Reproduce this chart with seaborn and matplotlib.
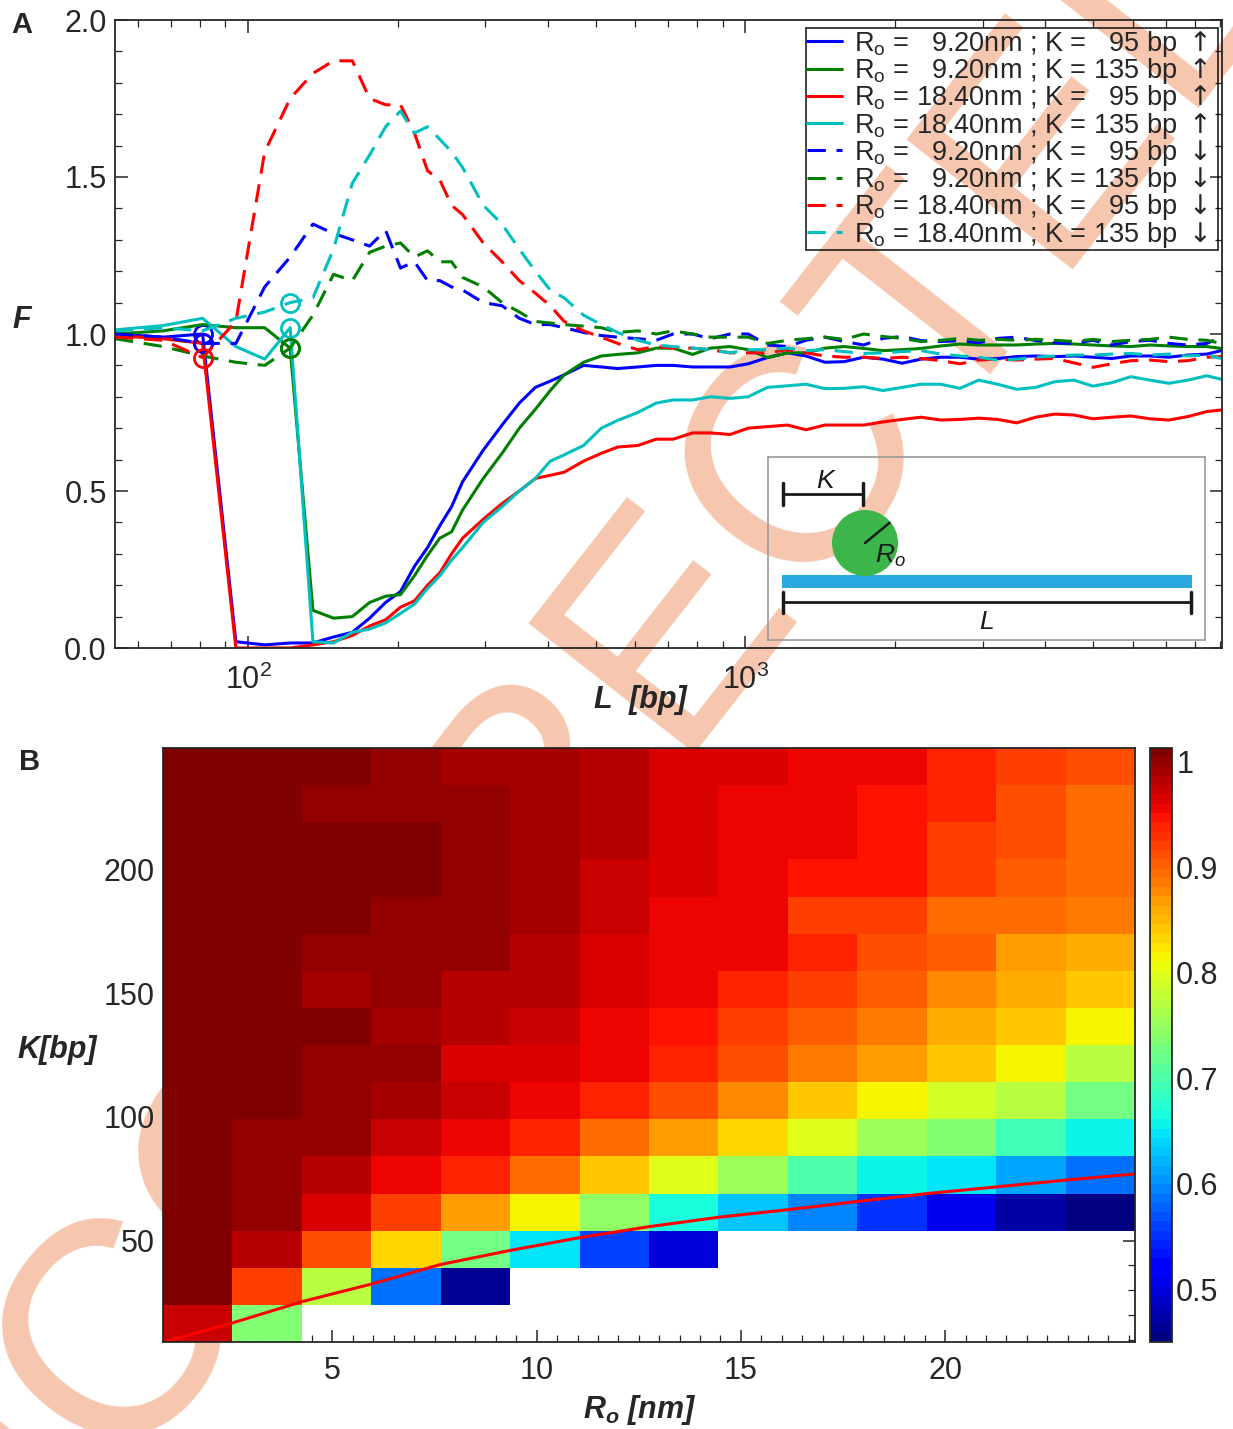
import numpy as np
import pandas as pd
import matplotlib
matplotlib.use("Agg")
import matplotlib.pyplot as plt
from matplotlib.patches import Ellipse
from matplotlib.ticker import MultipleLocator
from matplotlib.colors import ListedColormap
import seaborn as sns

# ---------------- panel A data (L = 13.5 bp * k) ----------------
k_index = [4, 5, 6, 7, 8, 9, 10, 11, 12, 13, 14, 15, 16, 17, 18, 19, 20,
           22, 24, 26, 28, 30, 32, 35, 38, 41, 45, 49, 53, 58, 63, 69, 75, 82, 90, 98, 107,
           117, 128, 140, 153, 167, 183, 200, 218, 238, 260, 284, 310, 339, 370, 404, 441,
           482, 526, 574, 627, 670]

f_blue_up = [1.0, 0.99, 1.0, 0.02, 0.01, 0.016, 0.016, 0.035, 0.05, 0.095, 0.145, 0.18, 0.26, 0.32, 0.39, 0.45, 0.53,
             0.63, 0.71, 0.78, 0.83, 0.85, 0.87, 0.90, 0.895, 0.89, 0.895, 0.90, 0.90, 0.895, 0.895, 0.895, 0.905, 0.925, 0.94, 0.93, 0.91,
             0.912, 0.926, 0.92, 0.907, 0.92, 0.926, 0.926, 0.92, 0.922, 0.928, 0.93, 0.928, 0.93, 0.926, 0.922, 0.93,
             0.93, 0.926, 0.933, 0.936, 0.947]
f_green_up = [1.0, 1.01, 1.03, 1.02, 1.02, 0.955, 0.12, 0.095, 0.10, 0.145, 0.165, 0.17, 0.23, 0.295, 0.35, 0.37, 0.44,
              0.54, 0.62, 0.70, 0.76, 0.82, 0.87, 0.91, 0.93, 0.935, 0.94, 0.955, 0.955, 0.935, 0.955, 0.96, 0.95, 0.925, 0.94, 0.94, 0.955,
              0.96, 0.954, 0.947, 0.95, 0.954, 0.962, 0.968, 0.965, 0.965, 0.965, 0.968, 0.97, 0.968, 0.965, 0.962, 0.96,
              0.965, 0.962, 0.96, 0.96, 0.954]
f_red_up = [0.995, 0.985, 0.97, 0.0, 0.0, 0.0, 0.01, 0.02, 0.04, 0.07, 0.09, 0.13, 0.15, 0.20, 0.24, 0.30, 0.35,
            0.41, 0.46, 0.50, 0.54, 0.55, 0.56, 0.595, 0.62, 0.64, 0.645, 0.665, 0.665, 0.685, 0.685, 0.68, 0.70, 0.705, 0.71, 0.695, 0.71,
            0.71, 0.71, 0.72, 0.728, 0.735, 0.726, 0.728, 0.732, 0.728, 0.717, 0.735, 0.745, 0.742, 0.73, 0.735, 0.739,
            0.73, 0.726, 0.737, 0.753, 0.758]
f_cyan_up = [1.013, 1.027, 1.05, 0.96, 0.92, 1.02, 0.02, 0.016, 0.05, 0.06, 0.08, 0.11, 0.14, 0.19, 0.23, 0.28, 0.32,
             0.40, 0.45, 0.50, 0.54, 0.595, 0.615, 0.645, 0.70, 0.725, 0.75, 0.78, 0.79, 0.79, 0.80, 0.795, 0.80, 0.83, 0.835, 0.84, 0.826,
             0.827, 0.832, 0.82, 0.83, 0.84, 0.84, 0.827, 0.853, 0.84, 0.824, 0.83, 0.848, 0.853, 0.834, 0.845, 0.864,
             0.853, 0.843, 0.853, 0.867, 0.856]
f_blue_dn = [1.0, 0.99, 0.97, 0.97, 1.15, 1.245, 1.35, 1.32, 1.30, 1.28, 1.33, 1.21, 1.23, 1.17, 1.17, 1.15, 1.14,
             1.10, 1.09, 1.05, 1.03, 1.03, 1.02, 1.005, 0.995, 0.99, 0.985, 0.98, 1.0, 1.0, 0.985, 1.0, 1.0, 0.965, 0.96, 0.98, 0.99,
             0.976, 0.965, 0.986, 0.992, 0.979, 0.976, 0.979, 0.972, 0.986, 0.99, 0.979, 0.972, 0.97, 0.98, 0.965, 0.976,
             0.98, 0.97, 0.965, 0.97, 0.99]
f_green_dn = [0.985, 0.96, 0.93, 0.91, 0.90, 0.955, 1.06, 1.19, 1.17, 1.26, 1.28, 1.29, 1.245, 1.265, 1.23, 1.23, 1.18,
              1.15, 1.10, 1.07, 1.04, 1.035, 1.03, 1.025, 1.02, 1.005, 1.01, 1.0, 1.01, 1.0, 0.99, 0.99, 0.99, 0.97, 0.98, 0.985, 0.99,
              0.983, 1.0, 0.992, 0.986, 0.976, 0.98, 0.986, 0.98, 0.983, 0.98, 0.983, 0.98, 0.976, 0.983, 0.976, 0.98,
              0.983, 0.99, 0.983, 0.98, 0.97]
f_red_dn = [0.99, 0.98, 0.925, 1.04, 1.58, 1.75, 1.83, 1.87, 1.87, 1.75, 1.73, 1.73, 1.64, 1.52, 1.49, 1.41, 1.38,
            1.29, 1.23, 1.17, 1.13, 1.09, 1.04, 1.01, 0.99, 0.97, 0.95, 0.96, 0.955, 0.955, 0.95, 0.94, 0.94, 0.94, 0.95, 0.94, 0.93,
            0.926, 0.926, 0.922, 0.926, 0.922, 0.915, 0.905, 0.917, 0.92, 0.917, 0.92, 0.922, 0.908, 0.894, 0.905, 0.915,
            0.917, 0.912, 0.915, 0.926, 0.928]
f_cyan_dn = [1.01, 1.02, 1.01, 1.05, 1.07, 1.10, 1.115, 1.27, 1.48, 1.57, 1.66, 1.71, 1.64, 1.66, 1.62, 1.58, 1.53,
             1.41, 1.35, 1.27, 1.20, 1.14, 1.115, 1.06, 1.03, 1.005, 0.98, 0.965, 0.96, 0.955, 0.95, 0.94, 0.95, 0.95, 0.955, 0.947, 0.95,
             0.944, 0.938, 0.94, 0.944, 0.947, 0.936, 0.93, 0.926, 0.917, 0.92, 0.926, 0.93, 0.933, 0.933, 0.936, 0.938,
             0.933, 0.936, 0.93, 0.933, 0.922]

ro_vals = [9.20, 9.20, 18.40, 18.40, 9.20, 9.20, 18.40, 18.40]
k_vals = [95, 135, 95, 135, 95, 135, 95, 135]
directions = ["up", "up", "up", "up", "down", "down", "down", "down"]
series = [f_blue_up, f_green_up, f_red_up, f_cyan_up, f_blue_dn, f_green_dn, f_red_dn, f_cyan_dn]
colors = ["#0000ff", "#007f00", "#ff0000", "#00bfbf"] * 2
# index of the last point before L reaches K (circled points)
circle_idx = {95: 2, 135: 5}

# ---------------- panel B data ----------------
ro_centers = [1.7, 3.4, 5.1, 6.8, 8.5, 10.2, 11.9, 13.6, 15.3, 17.0, 18.7, 20.4, 22.1, 23.8]
k_centers = [16.5, 31.5, 46.5, 61.5, 76.5, 91.5, 106.5, 121.5, 136.5, 151.5, 166.5, 181.5, 196.5, 211.5, 226.5, 241.5]
nan = np.nan
# rows listed from top (K = 241.5) to bottom (K = 16.5)
grid_rows = [
    [1.013, 1.005, 1.013, 0.997, 0.990, 0.990, 0.984, 0.967, 0.967, 0.957, 0.953, 0.934, 0.924, 0.915],
    [1.005, 1.005, 0.997, 0.997, 0.997, 0.990, 0.984, 0.967, 0.959, 0.953, 0.950, 0.934, 0.915, 0.895],
    [1.005, 1.013, 1.005, 1.005, 0.997, 0.990, 0.984, 0.967, 0.957, 0.953, 0.943, 0.924, 0.915, 0.895],
    [1.013, 1.005, 1.005, 1.005, 0.997, 0.990, 0.976, 0.967, 0.957, 0.943, 0.943, 0.924, 0.905, 0.895],
    [1.013, 1.005, 1.005, 0.997, 0.997, 0.990, 0.976, 0.959, 0.953, 0.924, 0.924, 0.895, 0.895, 0.886],
    [1.005, 1.013, 0.997, 0.997, 0.997, 0.984, 0.967, 0.957, 0.953, 0.934, 0.915, 0.905, 0.867, 0.861],
    [1.005, 1.005, 0.990, 0.997, 0.984, 0.984, 0.967, 0.957, 0.934, 0.924, 0.905, 0.876, 0.862, 0.838],
    [1.005, 1.005, 1.005, 0.990, 0.984, 0.976, 0.959, 0.943, 0.924, 0.905, 0.886, 0.858, 0.843, 0.811],
    [1.013, 1.005, 0.997, 0.997, 0.967, 0.967, 0.957, 0.934, 0.915, 0.886, 0.867, 0.838, 0.811, 0.768],
    [1.013, 1.005, 0.997, 0.990, 0.976, 0.953, 0.934, 0.915, 0.876, 0.843, 0.819, 0.789, 0.768, 0.724],
    [1.013, 0.997, 0.997, 0.976, 0.959, 0.934, 0.895, 0.867, 0.829, 0.800, 0.756, 0.735, 0.691, 0.658],
    [1.005, 0.997, 0.984, 0.959, 0.934, 0.895, 0.838, 0.800, 0.756, 0.702, 0.658, 0.644, 0.609, 0.582],
    [1.005, 0.997, 0.967, 0.924, 0.867, 0.816, 0.746, 0.669, 0.626, 0.591, 0.547, 0.505, 0.474, 0.457],
    [1.005, 0.984, 0.915, 0.829, 0.724, 0.644, 0.556, 0.497, nan, nan, nan, nan, nan, nan],
    [1.005, 0.924, 0.768, 0.582, 0.463, nan, nan, nan, nan, nan, nan, nan, nan, nan],
    [0.976, 0.735, nan, nan, nan, nan, nan, nan, nan, nan, nan, nan, nan, nan],
]
# boundary line drawn over the map
line_ro = [0.96, 2.53, 4.25, 5.95, 7.64, 9.35, 11.06, 12.75, 14.45, 16.17, 17.86, 19.58, 21.28, 23.0, 24.65]
line_k = [9.4, 16.6, 25.3, 32.4, 40.3, 46.0, 51.2, 55.6, 59.4, 62.5, 65.8, 69.0, 71.7, 74.5, 76.9]
cbar_ticks = [0.5, 0.6, 0.7, 0.8, 0.9, 1.0]
cbar_labels = ["0.5", "0.6", "0.7", "0.8", "0.9", "1"]

# ---------------- style ----------------
sns.set_style("ticks")
plt.rcParams["font.family"] = ["Liberation Sans", "DejaVu Sans"]
plt.rcParams.update({
    "mathtext.fontset": "custom",
    "mathtext.rm": "Liberation Sans",
    "mathtext.it": "Liberation Sans:italic",
    "mathtext.bf": "Liberation Sans:italic:bold",
    "mathtext.tt": "DejaVu Sans",
    "axes.linewidth": 1.3,
    "xtick.major.width": 1.1, "ytick.major.width": 1.1,
    "xtick.minor.width": 0.9, "ytick.minor.width": 0.9,
})

W, H = 1233, 1429
fig = plt.figure(figsize=(W / 100, H / 100), dpi=100)
fig.patch.set_facecolor("white")

def fbox(x0, y0, x1, y1):
    return [x0 / W, 1 - y1 / H, (x1 - x0) / W, (y1 - y0) / H]

# watermark behind everything
fig.text(886 / W, 1 - 381 / H, "UNCORRECTED PROOF", rotation=52, rotation_mode="anchor",
         ha="center", va="center", fontsize=221, color="#f7c6ae", zorder=-10)

# ---------------- panel A ----------------
L = 13.5 * np.array(k_index)
rows = []
for ro, kk, d, vals in zip(ro_vals, k_vals, directions, series):
    arrow = r"$\mathtt{\uparrow}$" if d == "up" else r"$\mathtt{\downarrow}$"
    ro_s = f"{ro:5.2f}".replace(" ", "  ")
    k_s = f"{kk:3d}".replace(" ", "  ")
    lab = r"R$_\mathregular{o}$ = " + ro_s + "nm ; K = " + k_s + " bp " + arrow + " "
    for l, f in zip(L, vals):
        rows.append({"L": l, "F": f, "label": lab, "dir": d, "K": kk})
df = pd.DataFrame(rows)
labels = list(dict.fromkeys(df["label"]))

axA = fig.add_axes(fbox(115, 20, 1222, 648))
axA.set_facecolor("none")
for lab, c in zip(labels, colors):
    sub = df[df["label"] == lab]
    ls = "-" if sub["dir"].iloc[0] == "up" else (0, (6, 3.5))
    sns.lineplot(data=sub, x="L", y="F", ax=axA, color=c, linewidth=2.2, linestyle=ls,
                 label=lab, sort=False, estimator=None)
    i = circle_idx[sub["K"].iloc[0]]
    axA.plot(sub["L"].iloc[i], sub["F"].iloc[i], marker="o", ms=13, mfc="none", mec=c, mew=2)

axA.set_xscale("log")
axA.set_xlim(54, 9080)
axA.set_ylim(0, 2.0)
axA.set_yticks([0, 0.5, 1.0, 1.5, 2.0])
axA.set_yticklabels(["0.0", "0.5", "1.0", "1.5", "2.0"])
axA.yaxis.set_minor_locator(MultipleLocator(0.1))
axA.tick_params(which="both", direction="in", top=True, right=True, labelsize=22)
axA.tick_params(which="major", length=9)
axA.tick_params(which="minor", length=5)
axA.tick_params(axis="x", pad=12)
axA.tick_params(axis="y", pad=6)
axA.set_xlabel("")
axA.set_ylabel("")
for s in axA.spines.values():
    s.set_visible(True)

leg = axA.legend(loc="upper right", bbox_to_anchor=(0.9964, 0.987), borderaxespad=0,
                 fontsize=19.5, handlelength=1.3, handletextpad=0.45, labelspacing=-0.1,
                 borderpad=0.02, frameon=True, fancybox=False)
leg.get_frame().set_edgecolor("black")
leg.get_frame().set_linewidth(1.3)
leg.get_frame().set_facecolor("none")

fig.text(22 / W, 1 - 25 / H, "A", fontsize=21, fontweight="bold", ha="center", va="center")
fig.text(22 / W, 1 - 320 / H, "F", fontsize=22, fontweight="bold", style="italic", ha="center", va="center")
fig.text(640 / W, 1 - 700 / H, "L  [bp]", fontsize=22, fontweight="bold", style="italic", ha="center", va="center")

# inset schematic
axI = fig.add_axes(fbox(768, 457, 1205, 640))
axI.set_facecolor("none")
axI.set_xlim(0, 1)
axI.set_ylim(0, 1)
axI.set_xticks([])
axI.set_yticks([])
for s in axI.spines.values():
    s.set_edgecolor("#9a9a9a")
    s.set_linewidth(1.2)
axI.add_patch(plt.Rectangle((0.031, 0.286), 0.939, 0.069, color="#29a9df", lw=0))
axI.add_patch(Ellipse((0.222, 0.530), 0.151, 0.361, color="#3cb54a", lw=0))
axI.plot([0.222, 0.278], [0.530, 0.640], color="#1a1a1a", lw=1.8)
axI.plot([0.034, 0.217], [0.798, 0.798], color="#1a1a1a", lw=2)
axI.plot([0.034, 0.034], [0.74, 0.86], color="#1a1a1a", lw=2.5)
axI.plot([0.217, 0.217], [0.74, 0.86], color="#1a1a1a", lw=2.5)
axI.plot([0.035, 0.968], [0.206, 0.206], color="#1a1a1a", lw=2)
axI.plot([0.035, 0.035], [0.15, 0.26], color="#1a1a1a", lw=2.5)
axI.plot([0.968, 0.968], [0.15, 0.26], color="#1a1a1a", lw=2.5)
axI.text(0.130, 0.87, "K", fontsize=19, style="italic", ha="center", va="center", color="#1a1a1a")
axI.text(0.279, 0.46, r"$\mathit{R_o}$", fontsize=19, ha="center", va="center", color="#1a1a1a")
axI.text(0.50, 0.10, "L", fontsize=19, style="italic", ha="center", va="center", color="#1a1a1a")

# ---------------- panel B ----------------
ro_c = np.array(ro_centers)
k_c = np.array(k_centers)
ro_edges = np.concatenate([[ro_c[0] - 0.85], ro_c + 0.85])
k_edges = np.concatenate([[k_c[0] - 7.5], k_c + 7.5])
grid = np.ma.masked_invalid(np.flipud(np.array(grid_rows)))

jet64 = ListedColormap(plt.get_cmap("jet")(np.linspace(0, 1, 64)))
axB = fig.add_axes(fbox(163, 748, 1135, 1342))
axB.set_facecolor("none")
mesh = axB.pcolormesh(ro_edges, k_edges, grid, cmap=jet64, vmin=0.45, vmax=1.013, shading="flat")
sns.lineplot(x=line_ro, y=line_k, ax=axB, color="#ff0000", linewidth=2.2, sort=False, estimator=None)
axB.set_xlim(ro_edges[0], ro_edges[-1])
axB.set_ylim(k_edges[0], k_edges[-1])
axB.set_xticks([5, 10, 15, 20])
axB.set_yticks([50, 100, 150, 200])
axB.xaxis.set_minor_locator(MultipleLocator(0.5))
axB.yaxis.set_minor_locator(MultipleLocator(10))
axB.tick_params(which="both", direction="in", top=True, right=True, labelsize=22)
axB.tick_params(which="major", length=9)
axB.tick_params(which="minor", length=5)
axB.tick_params(axis="x", pad=10)
axB.tick_params(axis="y", pad=6)
for s in axB.spines.values():
    s.set_visible(True)

caxB = fig.add_axes(fbox(1150, 748, 1172, 1342))
cb = fig.colorbar(mesh, cax=caxB, ticks=cbar_ticks)
cb.ax.set_yticklabels(cbar_labels)
cb.ax.tick_params(direction="in", length=6, labelsize=22, pad=3)
cb.outline.set_linewidth(1.3)

fig.text(30 / W, 1 - 762 / H, "B", fontsize=21, fontweight="bold", ha="center", va="center")
fig.text(57 / W, 1 - 1050 / H, "K[bp]", fontsize=22, fontweight="bold", style="italic", ha="center", va="center")
fig.text(640 / W, 1 - 1410 / H, r"$\mathbf{R_o}$ [nm]", fontsize=22, fontweight="bold", style="italic",
         ha="center", va="center")

fig.savefig("out.png", dpi=100, facecolor="white")
